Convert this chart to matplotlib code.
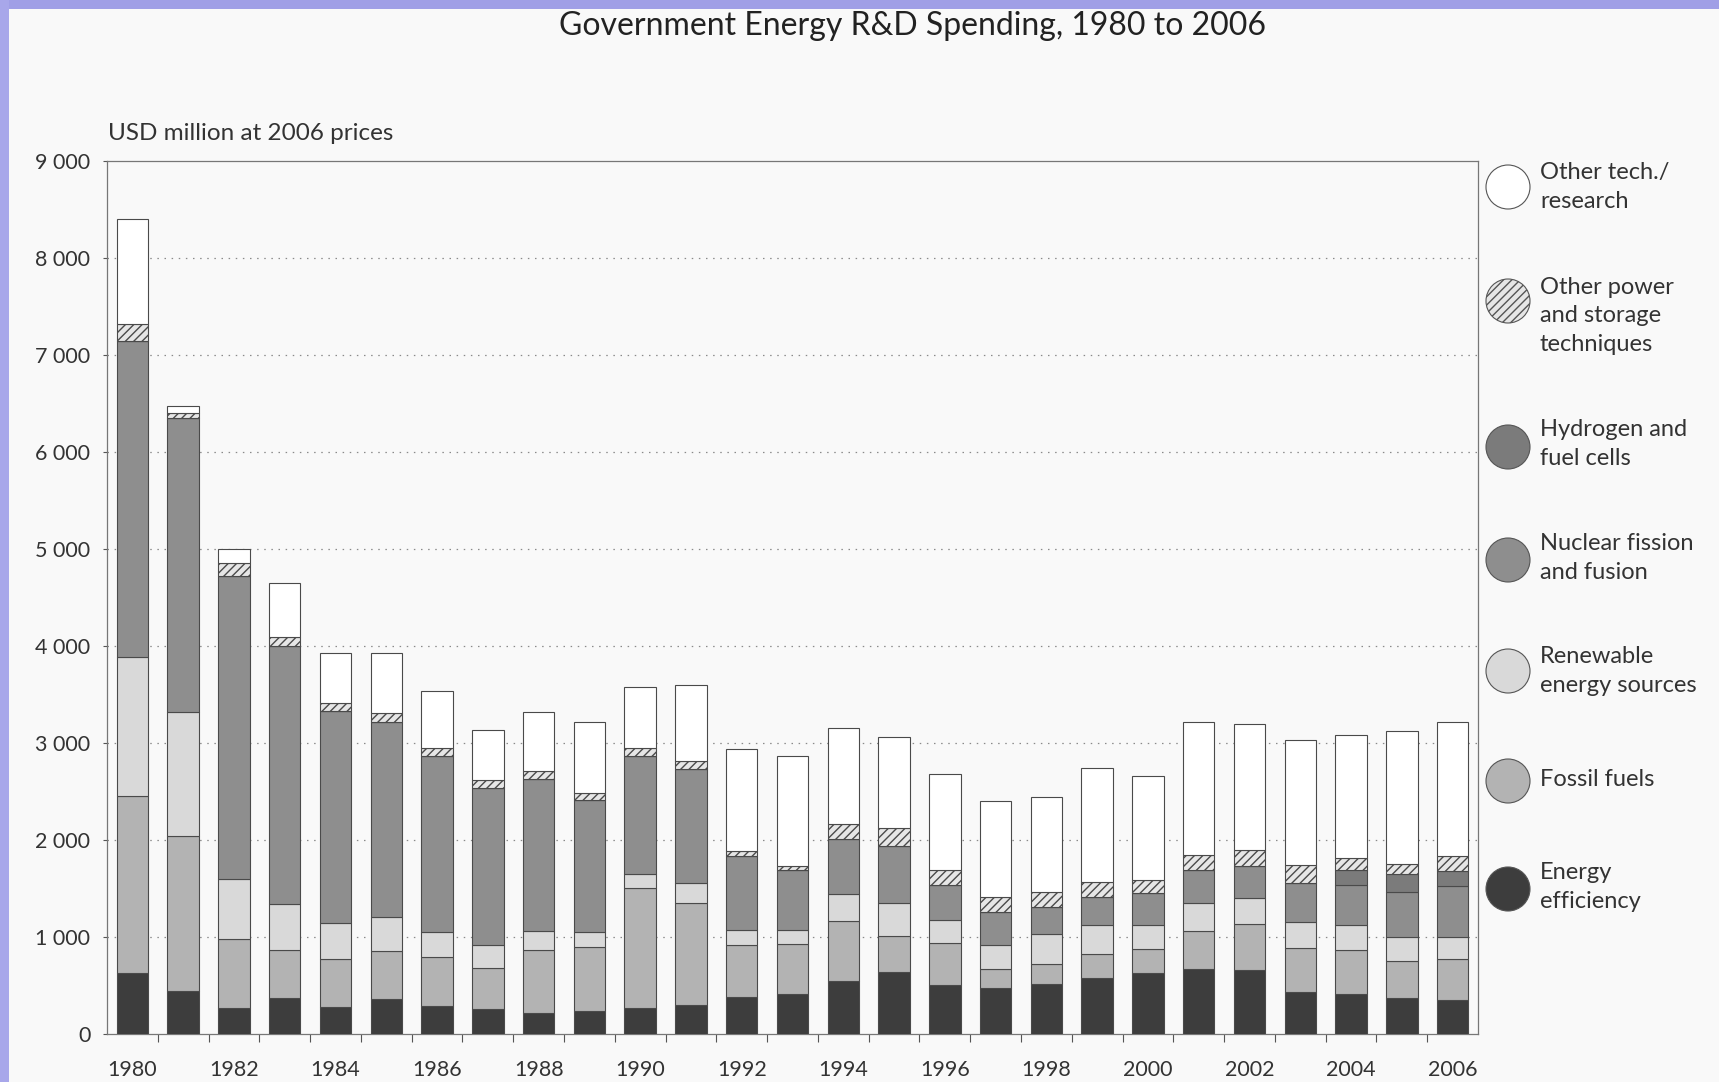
import numpy as np
import matplotlib
matplotlib.use("Agg")
import matplotlib.pyplot as plt
from matplotlib.patches import Circle, Rectangle
from matplotlib.ticker import FuncFormatter

plt.rcParams['font.family'] = ['Lato', 'DejaVu Sans']
plt.rcParams['hatch.color'] = '#555555'
plt.rcParams['hatch.linewidth'] = 1.0

# Data (USD million at 2006 prices)
years = list(range(1980, 2007))
energy_eff = [630, 440, 265, 375, 275, 360, 285, 255, 215, 240, 265, 295, 380, 415,
              550, 640, 510, 470, 515, 575, 630, 665, 655, 430, 410, 375, 350]
fossil = [1825, 1600, 710, 495, 495, 495, 505, 425, 655, 660, 1240, 1060, 535, 515,
          610, 370, 430, 195, 210, 250, 250, 395, 475, 455, 460, 375, 425]
renewable = [1435, 1280, 625, 470, 375, 355, 260, 240, 195, 155, 140, 205, 160, 140,
             285, 340, 240, 250, 305, 295, 245, 295, 270, 270, 250, 250, 225]
nuclear = [3250, 3035, 3125, 2660, 2180, 2005, 1820, 1620, 1565, 1355, 1225, 1170, 760, 620,
           570, 585, 360, 340, 275, 295, 325, 340, 330, 405, 420, 465, 525]
hydrogen = [0, 0, 0, 0, 0, 0, 0, 0, 0, 0, 0, 0, 0, 0,
            0, 0, 0, 0, 0, 0, 0, 0, 0, 0, 155, 185, 155]
other_power = [180, 45, 135, 90, 85, 90, 80, 75, 80, 70, 75, 80, 50, 45,
               145, 185, 150, 160, 160, 150, 140, 155, 170, 185, 120, 105, 155]
other_tech = [1085, 75, 135, 555, 515, 625, 590, 520, 610, 735, 630, 785, 1055, 1130,
              995, 945, 990, 990, 980, 1175, 1070, 1370, 1300, 1285, 1265, 1365, 1380]

series = [
    ("Energy\nefficiency", energy_eff, '#3d3d3d', None),
    ("Fossil fuels", fossil, '#b3b3b3', None),
    ("Renewable\nenergy sources", renewable, '#d9d9d9', None),
    ("Nuclear fission\nand fusion", nuclear, '#8e8e8e', None),
    ("Hydrogen and\nfuel cells", hydrogen, '#7b7b7b', None),
    ("Other power\nand storage\ntechniques", other_power, '#e6e6e6', '////'),
    ("Other tech./\nresearch", other_tech, '#ffffff', None),
]

W, H = 1719, 1082
fig = plt.figure(figsize=(W / 100, H / 100), dpi=100)
fig.patch.set_facecolor('#f9f9f9')

# lavender frame of the scan
fig.patches.append(Rectangle((0, 1 - 9 / H), 1, 9 / H, transform=fig.transFigure,
                             facecolor='#a09fe6', edgecolor='none', zorder=0))
fig.patches.append(Rectangle((0, 0), 9 / W, 1, transform=fig.transFigure,
                             facecolor='#a8a7ea', edgecolor='none', zorder=0))

ax = fig.add_axes([107 / W, 1 - 1034 / H, (1478 - 107) / W, (1034 - 161) / H])
ax.set_facecolor('#f9f9f9')

x = np.array(years)
bottom = np.zeros(len(years))
for name, vals, color, hatch in series:
    vals = np.array(vals, dtype=float)
    ax.bar(x, vals, bottom=bottom, width=0.62, color=color, edgecolor='#4a4a4a',
           linewidth=0.8, hatch=hatch, zorder=3)
    bottom += vals

ax.set_xlim(1979.5, 2006.5)
ax.set_ylim(0, 9000)
ax.set_yticks(range(0, 9001, 1000))
ax.yaxis.set_major_formatter(FuncFormatter(lambda v, p: f"{int(v):,}".replace(",", " ")))
ax.set_xticks(range(1980, 2007, 2))
ax.set_xticks(np.arange(1980.5, 2006, 1.0), minor=True)
ax.tick_params(axis='x', which='major', length=0, pad=19, labelsize=15.5, colors='#333333')
ax.tick_params(axis='x', which='minor', length=6, width=0.8, direction='out', color='#555555')
ax.tick_params(axis='y', length=3, width=0.8, pad=9, labelsize=15.5, colors='#555555',
               labelcolor='#333333')

for y in range(1000, 9000, 1000):
    ax.axhline(y, color='#8a8a8a', linewidth=0.9, linestyle=(0, (1.2, 4.5)), zorder=1)

for sp in ax.spines.values():
    sp.set_color('#777777')
    sp.set_linewidth(0.9)

fig.text(912 / W, 1 - 26 / H, "Government Energy R&D Spending, 1980 to 2006",
         ha='center', va='center', fontsize=23, color='#222222')
fig.text(108 / W, 1 - 133 / H, "USD million at 2006 prices",
         ha='left', va='center', fontsize=17.5, color='#333333')

# legend drawn in pixel coordinates
lax = fig.add_axes([0, 0, 1, 1])
lax.set_xlim(0, W)
lax.set_ylim(H, 0)
lax.axis('off')
circle_y = [889, 781, 671, 560, 447, 301, 187]
text_y = [887, 779, 671, 558, 444, 316, 187]
for (name, vals, color, hatch), cy, ty in zip(series, circle_y, text_y):
    lax.add_patch(Circle((1508, cy), 22, facecolor=color, edgecolor='#555555',
                         linewidth=0.8, hatch=hatch))
    lax.text(1540, ty, name, ha='left', va='center', fontsize=17,
             color='#333333', linespacing=1.45)

fig.savefig('out.png', dpi=100, facecolor=fig.get_facecolor())
